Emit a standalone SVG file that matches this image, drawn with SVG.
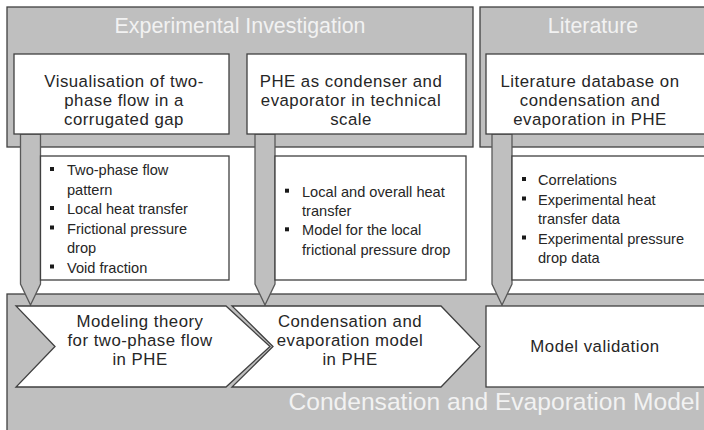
<svg xmlns="http://www.w3.org/2000/svg" width="704" height="430" viewBox="0 0 704 430">
<style>
.panel{fill:#bfbfbf;stroke:#404040;stroke-width:1.3}
.box{fill:#ffffff;stroke:#404040;stroke-width:1.3}
.bar{fill:#bfbfbf;stroke:#595959;stroke-width:1.3}
.title{font-family:"Liberation Sans",Arial,sans-serif;fill:#f2f2f2;text-anchor:middle}
.t{font-family:"Liberation Sans",Arial,sans-serif;font-size:16.8px;letter-spacing:0.5px;fill:#262626;text-anchor:middle}
.b{font-family:"Liberation Sans",Arial,sans-serif;font-size:14.6px;fill:#262626}
.sq{fill:#1a1a1a}
</style>
<rect width="704" height="430" fill="#ffffff"/>
<g id="panel-experimental">
<rect class="panel" x="7" y="7" width="466" height="140"/>
<text class="title" x="240" y="33" font-size="21.4">Experimental Investigation</text>
</g>
<g id="panel-literature">
<rect class="panel" x="480" y="7" width="240" height="140"/>
<text class="title" x="593" y="33" font-size="21.4">Literature</text>
</g>
<g id="panel-model">
<rect class="panel" x="7" y="294" width="720" height="150"/>
<text class="title" x="700" y="410" font-size="24.6" style="text-anchor:end">Condensation and Evaporation Model</text>
</g>
<g id="connectors">
<path class="bar" d="M20.5,134 V284 L30.5,305 L40.5,284 V134 Z"/>
<path class="bar" d="M255,134 V284 L265,305 L275,284 V134 Z"/>
<path class="bar" d="M492,134 V284 L502,305 L512,284 V134 Z"/>
</g>
<g id="box-visualisation">
<rect class="box" x="14" y="54" width="215" height="80"/>
<text class="t" x="124" y="87">Visualisation of two-</text>
<text class="t" x="124" y="106">phase flow in a</text>
<text class="t" x="124" y="125">corrugated gap</text>
</g>
<g id="box-phe">
<rect class="box" x="247" y="54" width="219" height="80"/>
<text class="t" x="351" y="87">PHE as condenser and</text>
<text class="t" x="351" y="106">evaporator in technical</text>
<text class="t" x="351" y="125">scale</text>
</g>
<g id="box-literature">
<rect class="box" x="486" y="54" width="230" height="80"/>
<text class="t" x="590" y="87">Literature database on</text>
<text class="t" x="590" y="106">condensation and</text>
<text class="t" x="590" y="125">evaporation in PHE</text>
</g>
<g id="list-visualisation">
<rect class="box" x="40.5" y="156" width="188.5" height="124"/>
<rect class="sq" x="50" y="167" width="4" height="4"/>
<rect class="sq" x="50" y="206" width="4" height="4"/>
<rect class="sq" x="50" y="225.5" width="4" height="4"/>
<rect class="sq" x="50" y="264.5" width="4" height="4"/>
<text class="b" x="67" y="175">Two-phase flow</text>
<text class="b" x="67" y="194.5">pattern</text>
<text class="b" x="67" y="214">Local heat transfer</text>
<text class="b" x="67" y="233.5">Frictional pressure</text>
<text class="b" x="67" y="253">drop</text>
<text class="b" x="67" y="272.5">Void fraction</text>
</g>
<g id="list-phe">
<rect class="box" x="275" y="156" width="191" height="124"/>
<rect class="sq" x="285" y="188.7" width="4" height="4"/>
<rect class="sq" x="285" y="227.3" width="4" height="4"/>
<text class="b" x="302" y="196.7">Local and overall heat</text>
<text class="b" x="302" y="216">transfer</text>
<text class="b" x="302" y="235.3">Model for the local</text>
<text class="b" x="302" y="254.6">frictional pressure drop</text>
</g>
<g id="list-literature">
<rect class="box" x="512" y="156" width="210" height="124"/>
<rect class="sq" x="522" y="177" width="4" height="4"/>
<rect class="sq" x="522" y="196.5" width="4" height="4"/>
<rect class="sq" x="522" y="235.5" width="4" height="4"/>
<text class="b" x="538" y="185">Correlations</text>
<text class="b" x="538" y="204.5">Experimental heat</text>
<text class="b" x="538" y="224">transfer data</text>
<text class="b" x="538" y="243.5">Experimental pressure</text>
<text class="b" x="538" y="263">drop data</text>
</g>
<g id="chevron-theory">
<path class="box" d="M16,306 H226 L270,346.5 L226,387 H16 L55,346.5 Z"/>
<text class="t" x="140" y="326.5">Modeling theory</text>
<text class="t" x="140" y="345.5">for two-phase flow</text>
<text class="t" x="140" y="364.5">in PHE</text>
</g>
<g id="chevron-model">
<path class="box" d="M232,306 H441 L480,346.5 L441,387 H232 L273,346.5 Z"/>
<text class="t" x="350" y="326.5">Condensation and</text>
<text class="t" x="350" y="345.5">evaporation model</text>
<text class="t" x="350" y="364.5">in PHE</text>
</g>
<g id="box-validation">
<rect class="box" x="486" y="306" width="240" height="81"/>
<text class="t" x="595" y="352">Model validation</text>
</g>
</svg>
